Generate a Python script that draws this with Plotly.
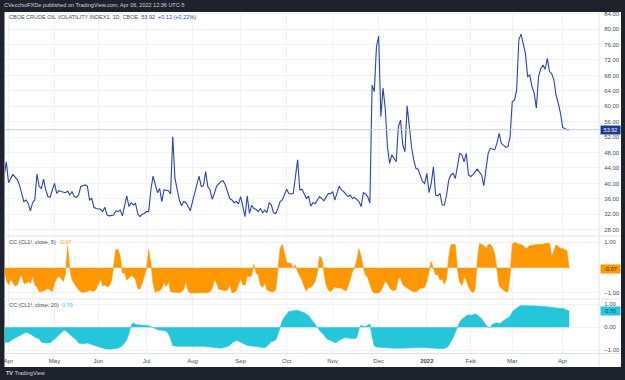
import plotly.graph_objects as go

# ---------------- data (bar index = trading day counted from 1 Apr 2021) ----------------
month_bars = [0, 21, 41, 63, 84, 106, 127, 148, 169, 191, 211, 230, 253]
month_labels = ["Apr", "May", "Jun", "Jul", "Aug", "Sep", "Oct", "Nov", "Dec", "<b>2022</b>", "Feb", "Mar", "Apr"]

ovx_bar = [-2, -1, 0, 2, 4, 5, 6, 7, 8, 9, 10, 11, 12, 13, 14, 15, 16, 17, 18, 19, 20, 21, 22, 23, 24, 26, 27, 28, 29,
           30, 31, 32, 33, 35, 36, 37, 38, 39, 40, 42, 43, 44, 45, 46, 48, 49, 50, 51, 52, 53, 54, 55, 56, 57, 58, 59,
           60, 61, 62, 63, 64, 65, 66, 68, 69, 70, 71, 73, 74, 75, 76, 78, 79, 80, 81, 82, 83, 84, 85, 87, 88, 89, 90,
           91, 92, 93, 94, 95, 97, 98, 99, 100, 101, 102, 103, 104, 105, 106, 107, 108, 109, 110, 111, 112, 113, 114,
           115, 116, 117, 118, 119, 120, 121, 122, 123, 124, 125, 127, 128, 129, 130, 132, 133, 134, 135, 136, 137,
           138, 139, 140, 141, 142, 143, 144, 146, 147, 148, 149, 151, 152, 153, 154, 155, 156, 157, 158, 159, 160,
           161, 162, 163, 164, 165, 166, 167, 168, 169, 170, 171, 172, 173, 174, 175, 176, 177, 178, 179, 180, 181,
           182, 183, 184, 185, 186, 187, 188, 189, 190, 191, 192, 193, 194, 195, 196, 197, 198, 199, 200, 201, 202,
           203, 204, 205, 206, 207, 208, 209, 210, 211, 212, 214, 215, 216, 217, 218, 219, 220, 222, 223, 224, 225,
           226, 227, 228, 229, 230, 231, 232, 233, 234, 235, 236, 237, 238, 239, 240, 241, 242, 243, 244, 245, 246,
           247, 248, 249, 250, 251, 252, 253, 254, 255, 256]
ovx_close = [41.8, 45.6, 40.2, 42.3, 41.0, 39.6, 37.4, 35.3, 35.7, 34.8, 32.9, 35.0, 35.7, 42.4, 39.2, 38.7, 41.1, 38.3,
             36.6, 36.4, 38.3, 40.0, 37.4, 38.1, 37.9, 37.6, 38.0, 37.0, 37.9, 36.6, 36.4, 37.0, 39.2, 39.6, 39.3, 35.7,
             36.1, 33.8, 33.5, 33.3, 32.7, 33.8, 31.8, 31.6, 31.8, 32.9, 32.7, 33.1, 31.6, 34.0, 36.8, 34.0, 35.0, 34.4,
             34.8, 32.2, 31.4, 32.0, 32.2, 32.7, 32.7, 38.3, 41.9, 37.6, 38.7, 35.3, 38.3, 38.1, 37.3, 52.1, 41.3, 35.7,
             34.2, 35.3, 35.0, 34.0, 32.9, 35.3, 37.6, 41.9, 39.2, 39.4, 43.1, 39.2, 38.3, 35.9, 37.4, 39.3, 40.5, 40.7,
             39.6, 37.9, 36.1, 35.7, 35.0, 35.3, 34.7, 36.6, 34.2, 31.4, 36.8, 32.2, 34.4, 33.5, 33.3, 32.7, 33.5, 32.4,
             33.1, 32.4, 35.0, 34.4, 32.4, 32.2, 33.5, 35.3, 35.7, 38.5, 37.4, 37.3, 37.4, 46.1, 38.3, 38.5, 37.3, 36.1,
             36.7, 34.1, 35.0, 34.8, 35.7, 36.6, 36.1, 35.5, 37.4, 37.3, 37.9, 35.7, 39.3, 38.3, 37.9, 37.3, 36.6, 37.0,
             36.1, 36.4, 35.7, 35.3, 34.0, 37.6, 37.3, 36.6, 34.9, 65.5, 63.8, 75.5, 78.2, 57.3, 64.7, 59.5, 49.5, 45.2,
             47.4, 46.5, 45.6, 54.7, 56.4, 50.0, 48.2, 60.1, 54.7, 49.5, 46.1, 43.9, 43.7, 41.8, 40.5, 40.0, 42.6, 37.6,
             40.0, 44.3, 37.0, 36.8, 37.4, 34.4, 34.4, 37.0, 40.9, 42.2, 42.6, 41.3, 44.3, 47.8, 47.4, 45.6, 47.8, 42.2,
             41.8, 42.2, 43.7, 43.0, 42.2, 39.4, 44.3, 47.8, 49.1, 48.7, 50.4, 53.0, 50.4, 50.0, 49.4, 49.5, 52.1, 61.2,
             61.6, 64.2, 77.2, 78.7, 76.3, 73.7, 67.7, 68.1, 65.1, 63.4, 59.5, 67.7, 69.8, 70.7, 69.6, 72.4, 69.0, 68.5,
             66.8, 62.9, 60.8, 58.2, 54.5, 54.3, 53.9, 53.92]

cc5_bar = list(range(-2, 257))
cc5_value = [0.05, -0.49, -0.68, -0.46, -0.59, -0.72, -0.68, -0.42, -0.29, -0.62, -0.62, -0.55, -0.62, -0.35, -0.68,
             -0.75, -0.95, -0.95, -0.92, -0.88, -0.81, -0.88, -0.95, -0.62, -0.42, -0.35, -0.42, -0.55, -0.25, 0.86,
             -0.05, -0.49, -0.62, -0.75, -0.88, -0.95, -0.98, -0.96, -0.95, -0.88, -0.91, -0.95, -0.85, -0.68, -0.46,
             -0.72, -0.68, -0.75, -0.72, -0.55, 0.17, 0.72, 0.72, 0.44, -0.22, -0.20, -0.49, -0.42, -0.32, -0.35, -0.49,
             -0.81, -0.85, -0.62, -0.35, -0.06, 0.70, 0.17, -0.62, -0.98, -0.92, -0.92, -0.81, -0.59, -0.75, -0.55,
             -0.95, -0.97, -0.98, -0.98, -0.98, -0.95, -0.85, -0.55, -0.92, -1.00, -1.00, -1.00, -0.98, -0.98, -0.98,
             -0.98, -1.00, -0.98, -0.95, -0.81, -0.49, -0.62, -0.85, -0.88, -0.88, -0.91, -0.88, -0.68, -0.98, -0.98,
             -0.91, -0.62, -0.42, -0.68, -0.68, -0.33, -0.35, -0.33, 0.13, -0.20, -0.29, -0.68, -0.78, -0.59, -0.88,
             -0.92, -0.95, -0.95, -0.88, -0.09, 0.76, 0.92, 0.50, 0.21, 0.17, 0.17, -0.03, 0.11, -0.16, -0.33, -0.49,
             -0.75, -0.92, -0.78, -0.78, -0.68, -0.55, -0.20, 0.45, 0.37, -0.09, -0.68, -0.88, -0.95, -0.85, -0.75,
             -0.81, -0.79, -0.81, -0.88, -0.92, -0.75, -0.49, -0.16, 0.00, 0.30, 0.74, 0.43, 0.00, -0.29, -0.39, -0.62,
             -0.92, -1.00, -1.00, -1.00, -0.92, -0.71, -0.55, -0.63, -0.79, -0.88, -0.92, -0.84, -0.42, -0.42, -0.66,
             -0.75, -0.81, -0.87, -0.92, -0.95, -0.95, -0.89, -0.81, -0.81, -0.77, -0.55, -0.16, 0.24, -0.02, -0.29,
             -0.26, -0.49, -0.45, -0.66, -0.42, 0.43, 0.90, 0.92, 0.90, -0.09, -0.58, -0.71, -0.39, -0.49, -0.75, -0.91,
             -0.98, -0.88, 0.24, 0.95, 0.92, 0.87, 0.76, 0.90, 0.92, 0.79, 0.53, -0.02, -0.71, -0.81, -0.88, -0.95,
             -0.95, -0.29, 0.92, 1.00, 0.96, 0.93, 0.92, 0.87, 0.76, 0.79, 0.87, 0.87, 0.90, 0.92, 0.91, 0.92, 0.92,
             0.95, 0.96, 0.96, 0.43, 0.70, 0.90, 0.83, 0.76, 0.76, 0.72, 0.66, -0.07]

cc20_bar = [-2, 0, 2, 4, 6, 8, 10, 12, 14, 15, 17, 19, 21, 23, 25, 26, 27, 29, 31, 32, 34, 36, 38, 40, 42, 44, 46, 48,
            50, 52, 53, 54, 55, 56, 57, 58, 60, 62, 64, 66, 68, 70, 72, 73, 74, 75, 77, 80, 83, 86, 89, 92, 94, 95, 96,
            97, 99, 101, 102, 103, 104, 106, 107, 109, 112, 115, 117, 118, 119, 120, 121, 122, 123, 124, 125, 126, 127,
            128, 129, 130, 131, 132, 133, 134, 135, 136, 137, 138, 139, 140, 141, 142, 143, 144, 145, 146, 147, 148,
            149, 150, 151, 152, 153, 154, 155, 156, 157, 158, 159, 160, 161, 162, 163, 164, 165, 166, 167, 168, 170,
            173, 176, 179, 182, 185, 188, 191, 194, 196, 198, 200, 201, 202, 203, 204, 205, 206, 207, 208, 209, 210,
            211, 212, 213, 214, 215, 216, 217, 218, 219, 220, 221, 222, 223, 224, 225, 226, 227, 228, 229, 230, 231,
            232, 233, 234, 236, 239, 242, 245, 248, 250, 251, 252, 253, 254, 255, 256]
cc20_value = [-0.65, -0.65, -0.52, -0.43, -0.32, -0.22, -0.30, -0.43, -0.50, -0.65, -0.69, -0.68, -0.52, -0.34, -0.16,
              -0.14, -0.24, -0.40, -0.55, -0.69, -0.72, -0.69, -0.75, -0.82, -0.89, -0.93, -0.96, -0.95, -0.91, -0.80,
              -0.69, -0.55, -0.26, 0.07, 0.19, 0.11, 0.09, 0.07, 0.06, -0.01, -0.11, -0.14, -0.17, -0.29, -0.50, -0.80,
              -0.83, -0.83, -0.83, -0.80, -0.83, -0.86, -0.88, -0.89, -0.93, -0.91, -0.86, -0.79, -0.69, -0.63, -0.57,
              -0.65, -0.69, -0.79, -0.83, -0.86, -0.89, -0.83, -0.72, -0.63, -0.60, -0.55, -0.32, 0.00, 0.29, 0.43,
              0.57, 0.68, 0.69, 0.72, 0.72, 0.72, 0.69, 0.66, 0.62, 0.56, 0.49, 0.37, 0.24, 0.07, -0.04, -0.14, -0.24,
              -0.33, -0.47, -0.55, -0.57, -0.63, -0.68, -0.65, -0.56, -0.52, -0.47, -0.46, -0.47, -0.49, -0.50, -0.50,
              -0.46, -0.07, 0.09, 0.03, 0.03, 0.09, 0.14, -0.43, -0.80, -0.86, -0.88, -0.89, -0.91, -0.91, -0.89, -0.89,
              -0.88, -0.89, -0.89, -0.92, -0.93, -0.89, -0.79, -0.65, -0.46, -0.22, 0.03, 0.22, 0.34, 0.43, 0.49, 0.53,
              0.50, 0.52, 0.57, 0.53, 0.46, 0.36, 0.22, 0.11, -0.03, 0.00, 0.13, 0.16, 0.19, 0.16, 0.19, 0.29, 0.33,
              0.40, 0.46, 0.65, 0.75, 0.83, 0.89, 0.93, 0.93, 0.92, 0.91, 0.89, 0.85, 0.80, 0.79, 0.80, 0.80, 0.78,
              0.72, 0.70]

price_ticks = [28, 32, 36, 40, 44, 48, 52, 56, 60, 64, 68, 72, 76, 80, 84]

# ---------------- styling ----------------
W, H = 625, 380
FRAME = "#1e222d"
BLUE = "#2a46a6"
ORANGE = "#ff9800"
CYAN = "#26c6da"
GRID = "#f0f2f7"
SEP = "#e0e3eb"
TXT = "#4a4e5a"
FONT = "Liberation Sans"


def fx(px):
    return px / W


def fy(py):
    return 1 - py / H


fig = go.Figure()
fig.add_trace(go.Scatter(x=ovx_bar, y=ovx_close, mode="lines", line=dict(color=BLUE, width=1.1),
                         xaxis="x", yaxis="y", hoverinfo="skip"))
fig.add_trace(go.Scatter(x=cc5_bar, y=cc5_value, mode="lines", fill="tozeroy", fillcolor=ORANGE,
                         line=dict(color=ORANGE, width=0.6), xaxis="x", yaxis="y2", hoverinfo="skip"))
fig.add_trace(go.Scatter(x=cc20_bar, y=cc20_value, mode="lines", fill="tozeroy", fillcolor=CYAN,
                         line=dict(color=CYAN, width=0.6), xaxis="x", yaxis="y3", hoverinfo="skip"))

tickfont = dict(family=FONT, size=6, color=TXT)
yax_common = dict(side="right", anchor="x", showgrid=True, gridcolor=GRID, gridwidth=1, zeroline=False,
                  showline=False, ticks="outside", ticklen=3, tickcolor="rgba(0,0,0,0)", tickformat=".2f",
                  tickfont=tickfont, fixedrange=True)

fig.update_layout(
    width=W, height=H, margin=dict(l=0, r=0, t=0, b=0),
    paper_bgcolor=FRAME, plot_bgcolor="white", showlegend=False, hovermode=False,
    xaxis=dict(domain=[fx(5), fx(599)], range=[-1.6, 269.6], anchor="y3", tickmode="array",
               tickvals=month_bars, ticktext=month_labels, showgrid=True, gridcolor=GRID, zeroline=False,
               showline=False, ticks="outside", ticklen=1, tickcolor="rgba(0,0,0,0)", tickfont=tickfont,
               fixedrange=True),
    yaxis=dict(domain=[fy(236), fy(12)], range=[26.37, 84.44], tickmode="array", tickvals=price_ticks,
               **yax_common),
    yaxis2=dict(domain=[fy(299), fy(236)], range=[-1.237, 1.249], tickmode="array", tickvals=[-1, 1],
                **yax_common),
    yaxis3=dict(domain=[fy(353.5), fy(299)], range=[-1.14, 1.216], tickmode="array", tickvals=[-1, 0, 1],
                **yax_common),
)

shapes = [
    dict(type="rect", xref="paper", yref="paper", x0=fx(4.5), x1=fx(621), y0=fy(367), y1=fy(12),
         fillcolor="white", line=dict(width=0), layer="below"),
    dict(type="line", xref="x domain", yref="y", x0=0, x1=1, y0=ovx_close[-1], y1=ovx_close[-1],
         line=dict(color="#c3cdf0", width=1)),
]
for yy in (236, 299, 353.5):
    shapes.append(dict(type="line", xref="paper", yref="paper", x0=fx(4.5), x1=fx(621), y0=fy(yy), y1=fy(yy),
                       line=dict(color=SEP, width=1)))
shapes.append(dict(type="line", xref="paper", yref="paper", x0=fx(599), x1=fx(599), y0=fy(367), y1=fy(12),
                   line=dict(color=SEP, width=1)))
fig.update_layout(shapes=shapes)

small = dict(family=FONT, size=5.5, color=TXT)
ann = [
    dict(text="CVecchioFXDe published on TradingView.com, Apr 06, 2022 12:36 UTC-5", x=fx(1.5), y=fy(5.5),
         font=dict(family=FONT, size=5.5, color="#d1d4dc")),
    dict(text="CBOE CRUDE OIL VOLATILITY INDEX1, 1D, CBOE  <span style='color:%s'>53.92  +0.12 (+0.22%%)</span>" % BLUE,
         x=fx(7), y=fy(16.7), font=small),
    dict(text="CC (CL1!, close, 5)  <span style='color:%s'>-0.07</span>" % ORANGE, x=fx(7), y=fy(242.3), font=small),
    dict(text="CC (CL1!, close, 20)  <span style='color:%s'>0.70</span>" % CYAN, x=fx(7), y=fy(305), font=small),
    dict(text="<b>TV</b> TradingView", x=fx(4), y=fy(373.3), font=dict(family=FONT, size=5.5, color="#d1d4dc")),
]
for a in ann:
    a.update(xref="paper", yref="paper", xanchor="left", yanchor="middle", showarrow=False)

labels = [("y", ovx_close[-1], "%.2f" % ovx_close[-1], "#1c3a94", "white"),
          ("y2", cc5_value[-1], "%.2f" % cc5_value[-1], ORANGE, "#3a2a00"),
          ("y3", cc20_value[-1], "%.2f" % cc20_value[-1], CYAN, "#053a40")]
for yref, val, txt, bg, fc in labels:
    ann.append(dict(text=txt, xref="paper", yref=yref, x=fx(599.5), y=val, xanchor="left", yanchor="middle",
                    showarrow=False, bgcolor=bg, borderpad=1, width=17, align="center",
                    font=dict(family=FONT, size=5.5, color=fc)))
fig.update_layout(annotations=ann)

fig.write_html("out.html", config={"displayModeBar": False},
               post_script="document.body.style.margin='0';document.body.style.background='%s';" % FRAME)
